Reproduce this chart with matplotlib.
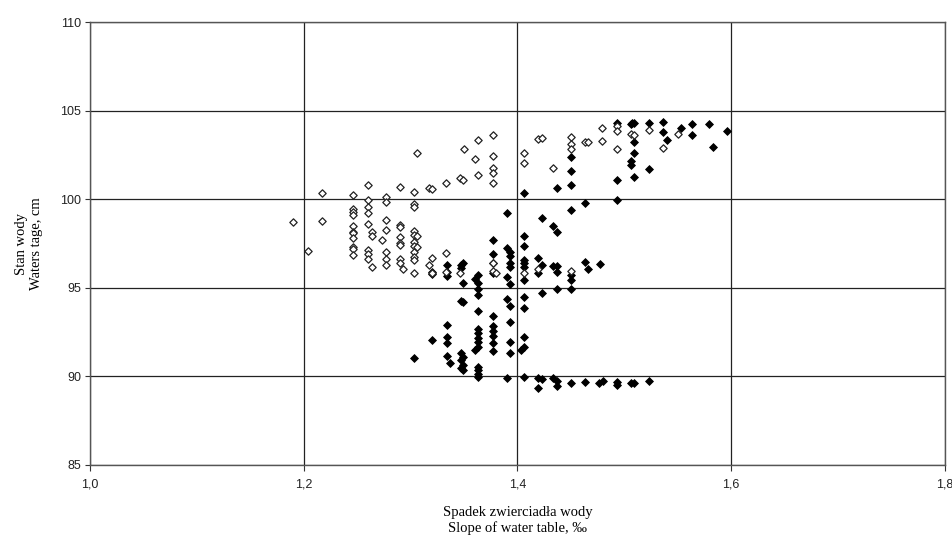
import matplotlib
matplotlib.use('Agg')
import matplotlib.pyplot as plt
from matplotlib.ticker import FuncFormatter

# open diamonds
open_x = [1.190, 1.204, 1.217, 1.217,
          1.246, 1.246, 1.246, 1.246, 1.246, 1.246, 1.246, 1.246, 1.246, 1.246, 1.246,
          1.260, 1.260, 1.260, 1.260, 1.260, 1.260, 1.260, 1.260,
          1.264, 1.264, 1.264, 1.273,
          1.277, 1.277, 1.277, 1.277, 1.277, 1.277, 1.277,
          1.290, 1.290, 1.290, 1.290, 1.290, 1.290, 1.290, 1.290, 1.293,
          1.303, 1.303, 1.303, 1.303, 1.303, 1.303, 1.303, 1.303, 1.303, 1.303, 1.303,
          1.306, 1.306, 1.306, 1.317, 1.317,
          1.320, 1.320, 1.320, 1.333, 1.333, 1.333, 1.346, 1.346, 1.349, 1.350,
          1.360, 1.363, 1.363,
          1.377, 1.377, 1.377, 1.377, 1.377, 1.377, 1.377, 1.380,
          1.406, 1.406, 1.406, 1.4195, 1.4195, 1.4226, 1.433,
          1.450, 1.450, 1.450, 1.450, 1.463, 1.466, 1.479, 1.479,
          1.493, 1.493, 1.493, 1.506, 1.509, 1.523, 1.536, 1.550]
open_y = [98.73, 97.09, 100.33, 98.79,
          100.25, 99.43, 99.26, 99.09, 98.49, 98.17, 98.08, 97.80, 97.29, 97.18, 96.84,
          100.82, 99.95, 99.58, 99.20, 98.58, 97.13, 96.91, 96.61,
          98.17, 97.94, 96.16, 97.70,
          100.11, 99.86, 98.83, 98.26, 97.04, 96.61, 96.29,
          100.71, 98.54, 98.41, 97.85, 97.55, 97.42, 96.61, 96.42, 96.04,
          100.43, 99.73, 99.58, 98.23, 97.98, 97.60, 97.36, 97.04, 96.72, 96.57, 95.82,
          102.59, 97.92, 97.32, 100.62, 96.29,
          100.55, 96.66, 95.82, 100.89, 96.95, 95.91, 101.17, 95.86, 101.08, 102.83,
          102.27, 103.34, 101.34,
          103.62, 102.45, 101.74, 101.50, 100.90, 96.42, 95.97, 95.86,
          102.63, 102.03, 95.82, 103.38, 96.04, 103.43, 101.78,
          103.53, 103.12, 102.82, 95.95, 103.25, 103.25, 104.03, 103.28,
          104.13, 103.86, 102.83, 103.66, 103.62, 103.90, 102.91, 103.68]

# filled diamonds
full_x = [1.493, 1.493, 1.493, 1.493, 1.493,
          1.506, 1.506, 1.506, 1.506, 1.5075,
          1.509, 1.509, 1.509, 1.509, 1.509,
          1.523, 1.523, 1.523, 1.536, 1.536, 1.540, 1.553, 1.563, 1.563,
          1.579, 1.583, 1.596, 1.477, 1.4765, 1.480,
          1.463, 1.463, 1.463, 1.466,
          1.450, 1.450, 1.450, 1.450, 1.450, 1.450, 1.450, 1.450,
          1.4366, 1.4366, 1.4366, 1.4366, 1.4366, 1.4366, 1.4366,
          1.433, 1.433, 1.433,
          1.4226, 1.4226, 1.4226, 1.4226,
          1.4195, 1.4195, 1.4195, 1.4195,
          1.406, 1.406, 1.406, 1.406, 1.406, 1.406, 1.406, 1.406, 1.406, 1.406, 1.406, 1.406,
          1.403,
          1.393, 1.393, 1.393, 1.393, 1.393, 1.393, 1.393, 1.393, 1.393,
          1.390, 1.390, 1.390, 1.390, 1.390,
          1.377, 1.377, 1.377, 1.377, 1.377, 1.377, 1.377, 1.377, 1.377, 1.377,
          1.363, 1.360, 1.363, 1.363, 1.363, 1.363, 1.363, 1.363, 1.363, 1.363,
          1.363, 1.360, 1.363, 1.363, 1.363, 1.363,
          1.349, 1.349, 1.349, 1.349, 1.349, 1.349,
          1.347, 1.347, 1.347, 1.347, 1.347, 1.347,
          1.334, 1.334, 1.334, 1.334, 1.334, 1.334, 1.334, 1.337,
          1.320, 1.320, 1.320, 1.303]
full_y = [104.32, 101.08, 99.95, 89.70, 89.51,
          104.22, 102.16, 101.93, 89.64, 104.28,
          104.32, 103.25, 102.63, 101.25, 89.61,
          104.32, 101.69, 89.74, 104.34, 103.77, 103.34, 104.00, 104.24, 103.62,
          104.22, 102.96, 103.85, 96.34, 89.64, 89.76,
          99.80, 96.48, 89.70, 96.04,
          102.40, 101.61, 100.80, 99.39, 95.72, 95.44, 94.92, 89.61,
          100.62, 98.13, 96.23, 95.91, 94.92, 89.76, 89.46,
          98.49, 96.23, 89.89,
          98.92, 96.29, 94.72, 89.84,
          96.66, 95.82, 89.89, 89.33,
          100.33, 97.92, 97.36, 96.57, 96.42, 96.19, 95.44, 94.46, 93.84, 92.24, 91.68, 89.95,
          91.49,
          97.04, 96.80, 96.38, 96.16, 95.21, 93.97, 93.09, 91.96, 91.34,
          99.20, 97.23, 95.59, 94.37, 89.93,
          97.70, 96.91, 96.38, 95.82, 93.41, 92.84, 92.58, 92.28, 91.90, 91.45,
          95.72, 95.48, 95.25, 94.92, 94.59, 93.71, 92.66, 92.43, 92.15, 91.96,
          91.68, 91.49, 90.55, 90.36, 90.14, 89.98,
          96.42, 95.29, 94.22, 91.11, 90.64, 90.36,
          96.29, 96.10, 94.27, 91.34, 90.93, 90.49,
          96.29, 95.91, 95.67, 92.90, 92.24, 91.87, 91.15, 90.74,
          95.91, 95.76, 92.05, 91.06]

x_ticks = [1.0, 1.2, 1.4, 1.6, 1.8]
y_ticks = [85, 90, 95, 100, 105, 110]

fig = plt.figure(figsize=(9.53, 5.45), dpi=100)
ax = fig.add_axes([0.0944, 0.1468, 0.8972, 0.8128])

ax.grid(True, color='#222222', lw=0.9, ls='-')
ax.set_axisbelow(True)

ax.scatter(full_x, full_y, marker='D', s=16, c='black', edgecolors='black',
           linewidths=0.6, zorder=3)
ax.scatter(open_x, open_y, marker='D', s=14, c='white', edgecolors='#222222',
           linewidths=0.9, zorder=4)

ax.set_xlim(1.0, 1.8)
ax.set_ylim(85, 110)
ax.set_xticks(x_ticks)
ax.set_yticks(y_ticks)
ax.xaxis.set_major_formatter(FuncFormatter(lambda v, p: ('%.1f' % v).replace('.', ',')))
ax.tick_params(labelsize=9, width=0.8, colors='#333333', labelcolor='#222222')
ax.tick_params(axis='x', length=4, pad=6)
ax.tick_params(axis='y', length=3.5, pad=3)
for lab in ax.get_xticklabels() + ax.get_yticklabels():
    lab.set_family('Liberation Sans')
for sp in ax.spines.values():
    sp.set_color('#555555')
    sp.set_linewidth(1.0)

ax.set_xlabel('Spadek zwierciadła wody\nSlope of water table, ‰',
              family='Liberation Serif', fontsize=10.5, labelpad=11, linespacing=1.2)
ax.set_ylabel('Stan wody\nWaters tage, cm', family='Liberation Serif',
              fontsize=10.5, labelpad=12, linespacing=1.2)

fig.savefig('out.png', dpi=100, facecolor='white')
